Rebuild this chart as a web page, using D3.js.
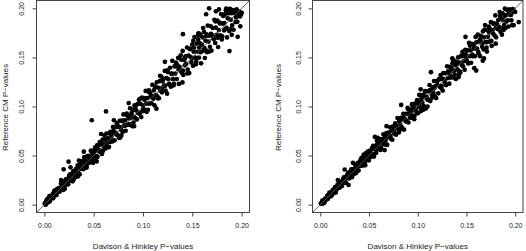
<!DOCTYPE html>
<html>
<head>
<meta charset="utf-8">
<script src="https://cdn.jsdelivr.net/npm/d3@7"></script>
<style>
  html, body { margin: 0; padding: 0; background: #fff; }
  svg { display: block; font-family: "Liberation Sans", Arial, Helvetica, sans-serif; }
</style>
</head>
<body>
<svg id="chart" width="526" height="251"></svg>
<script>
// ---------------- data ----------------
const tickValues = [0, 0.05, 0.10, 0.15, 0.20];
const tickLabels = ["0.00", "0.05", "0.10", "0.15", "0.20"];
const xTitle = "Davison & Hinkley P\u2212values";
const yTitle = "Reference CM P\u2212values";

// left panel: [Davison & Hinkley p, Reference CM p]
const leftPoints = [
[0.0004,0.0013],[0.0013,0.0000],[0.0019,0.0038],[0.0027,0.0026],[0.0031,0.0059],[0.0042,0.0033],[0.0048,0.0062],[0.0055,0.0034],
[0.0063,0.0090],[0.0069,0.0074],[0.0078,0.0072],[0.0084,0.0106],[0.0091,0.0074],[0.0102,0.0143],[0.0108,0.0107],[0.0117,0.0131],
[0.0123,0.0098],[0.0131,0.0162],[0.0142,0.0130],[0.0147,0.0169],[0.0156,0.0164],[0.0163,0.0143],[0.0171,0.0216],[0.0179,0.0180],
[0.0188,0.0207],[0.0194,0.0151],[0.0203,0.0232],[0.0211,0.0204],[0.0218,0.0259],[0.0226,0.0207],[0.0233,0.0247],[0.0241,0.0207],
[0.0249,0.0284],[0.0256,0.0248],[0.0264,0.0312],[0.0271,0.0250],[0.0279,0.0303],[0.0286,0.0238],[0.0293,0.0341],[0.0299,0.0304],
[0.0008,0.0005],[0.0023,0.0041],[0.0036,0.0023],[0.0051,0.0086],[0.0059,0.0059],[0.0074,0.0087],[0.0088,0.0064],[0.0096,0.0125],
[0.0113,0.0102],[0.0127,0.0148],[0.0137,0.0145],[0.0152,0.0132],[0.0168,0.0214],[0.0184,0.0185],[0.0198,0.0219],[0.0207,0.0163],
[0.0222,0.0252],[0.0237,0.0229],[0.0253,0.0299],[0.0268,0.0245],[0.0283,0.0298],[0.0296,0.0256],
[0.0245,0.0438],[0.0195,0.0360],[0.0265,0.0380],[0.0170,0.0250],
[0.0306,0.0326],[0.0314,0.0279],[0.0321,0.0366],[0.0329,0.0324],[0.0337,0.0400],[0.0343,0.0321],[0.0352,0.0384],[0.0358,0.0309],
[0.0366,0.0425],[0.0373,0.0383],[0.0381,0.0369],[0.0389,0.0433],[0.0396,0.0361],[0.0404,0.0484],[0.0411,0.0409],[0.0419,0.0446],
[0.0426,0.0376],[0.0433,0.0491],[0.0442,0.0422],[0.0448,0.0488],[0.0457,0.0473],[0.0463,0.0430],[0.0471,0.0549],[0.0478,0.0482],
[0.0486,0.0521],[0.0494,0.0426],[0.0501,0.0550],[0.0509,0.0499],[0.0516,0.0585],[0.0524,0.0495],[0.0531,0.0554],[0.0539,0.0489],
[0.0546,0.0603],[0.0553,0.0543],[0.0561,0.0638],[0.0569,0.0537],[0.0576,0.0614],[0.0584,0.0517],[0.0591,0.0664],[0.0598,0.0608],
[0.0606,0.0587],[0.0613,0.0666],[0.0621,0.0573],[0.0629,0.0725],[0.0636,0.0632],[0.0644,0.0676],[0.0651,0.0586],[0.0658,0.0728],
[0.0667,0.0639],[0.0673,0.0721],[0.0681,0.0699],[0.0689,0.0644],[0.0696,0.0792],
[0.0310,0.0315],[0.0325,0.0355],[0.0340,0.0287],[0.0355,0.0397],[0.0369,0.0363],[0.0384,0.0444],[0.0400,0.0375],[0.0415,0.0437],
[0.0430,0.0386],[0.0445,0.0498],[0.0460,0.0451],[0.0475,0.0549],[0.0490,0.0461],[0.0505,0.0541],[0.0520,0.0457],[0.0535,0.0605],
[0.0550,0.0560],[0.0565,0.0547],[0.0580,0.0632],[0.0595,0.0548],[0.0610,0.0707],[0.0625,0.0620],[0.0640,0.0673],[0.0655,0.0589],
[0.0670,0.0742],[0.0685,0.0656],[0.0700,0.0750],
[0.0480,0.0860],[0.0625,0.0950],[0.0400,0.0540],[0.0575,0.0720],[0.0530,0.0440],[0.0350,0.0450],
[0.0704,0.0735],[0.0712,0.0655],[0.0719,0.0790],[0.0727,0.0718],[0.0735,0.0830],[0.0741,0.0708],[0.0750,0.0798],[0.0757,0.0681],
[0.0764,0.0853],[0.0772,0.0787],[0.0779,0.0760],[0.0787,0.0853],[0.0795,0.0742],[0.0802,0.0919],[0.0809,0.0807],[0.0817,0.0858],
[0.0824,0.0753],[0.0832,0.0916],[0.0840,0.0812],[0.0846,0.0904],[0.0855,0.0879],[0.0862,0.0815],[0.0869,0.0982],[0.0877,0.0883],
[0.0885,0.0936],[0.0892,0.0799],[0.0899,0.0968],[0.0907,0.0895],[0.0914,0.1011],[0.0922,0.0882],[0.0930,0.0963],[0.0937,0.0868],
[0.0944,0.1024],[0.0952,0.0939],[0.0959,0.1068],[0.0967,0.0925],[0.0975,0.1028],[0.0982,0.0892],[0.0989,0.1090],[0.0997,0.1012],
[0.1004,0.0981],[0.1012,0.1085],[0.1019,0.0956],[0.1027,0.1159],[0.1034,0.1029],[0.1042,0.1086],[0.1050,0.0967],[0.1057,0.1151],
[0.1064,0.1030],[0.1072,0.1136],[0.1079,0.1104],[0.1087,0.1032],[0.1095,0.1220],[0.1102,0.1107],[0.1109,0.1164],[0.1117,0.1011],
[0.1124,0.1200],[0.1132,0.1117],[0.1140,0.1247],[0.1147,0.1100],[0.1155,0.1191],[0.1162,0.1084],[0.1170,0.1258],[0.1177,0.1161],
[0.1185,0.1305],[0.1192,0.1144],[0.1199,0.1256],
[0.0725,0.0732],[0.0745,0.0792],[0.0768,0.0683],[0.0790,0.0856],[0.0813,0.0802],[0.0835,0.0928],[0.0858,0.0820],[0.0880,0.0913],
[0.0903,0.0837],[0.0925,0.1004],[0.0948,0.0935],[0.0970,0.1079],[0.0993,0.0951],[0.1015,0.1069],[0.1038,0.0946],[0.1060,0.1164],
[0.1083,0.1098],[0.1105,0.1080],[0.1128,0.1204],[0.1150,0.1083],[0.1173,0.1313],[0.1195,0.1189],
[0.1136,0.0978],[0.0855,0.1035],[0.0705,0.0860],[0.0910,0.0800],[0.0780,0.0705],
[0.1206,0.1281],[0.1214,0.1212],[0.1221,0.1362],[0.1229,0.1161],[0.1237,0.1290],[0.1244,0.1131],[0.1252,0.1350],[0.1259,0.1279],
[0.1266,0.1230],[0.1274,0.1395],[0.1282,0.1201],[0.1289,0.1332],[0.1297,0.1465],[0.1304,0.1278],[0.1311,0.1216],[0.1319,0.1408],
[0.1327,0.1335],[0.1334,0.1447],[0.1342,0.1280],[0.1349,0.1416],[0.1357,0.1495],[0.1364,0.1230],[0.1371,0.1403],[0.1379,0.1363],
[0.1387,0.1478],[0.1394,0.1343],[0.1402,0.1566],[0.1409,0.1321],[0.1417,0.1473],[0.1424,0.1420],[0.1431,0.1512],[0.1439,0.1435],
[0.1447,0.1601],[0.1454,0.1376],[0.1462,0.1519],[0.1469,0.1341],[0.1477,0.1584],[0.1484,0.1504],[0.1491,0.1449],[0.1499,0.1631],
[0.1507,0.1414],[0.1514,0.1559],[0.1522,0.1707],[0.1529,0.1498],[0.1537,0.1430],[0.1544,0.1641],[0.1551,0.1558],[0.1559,0.1682],
[0.1567,0.1497],[0.1574,0.1646],[0.1582,0.1732],[0.1589,0.1440],[0.1597,0.1630],
[0.1225,0.1212],[0.1248,0.1369],[0.1270,0.1223],[0.1293,0.1336],[0.1315,0.1232],[0.1338,0.1439],[0.1360,0.1380],[0.1383,0.1521],
[0.1405,0.1365],[0.1428,0.1496],[0.1450,0.1337],[0.1473,0.1591],[0.1495,0.1490],[0.1518,0.1601],[0.1540,0.1459],[0.1563,0.1724],
[0.1585,0.1553],
[0.1405,0.1737],[0.1222,0.1455],[0.1400,0.1245],[0.1565,0.1745],[0.1640,0.1570],
[0.1604,0.1705],[0.1612,0.1570],[0.1619,0.1759],[0.1627,0.1494],[0.1634,0.1670],[0.1642,0.1718],[0.1649,0.1554],[0.1657,0.1825],
[0.1664,0.1661],[0.1672,0.1721],[0.1679,0.1609],[0.1687,0.1817],[0.1694,0.1570],[0.1702,0.1726],[0.1709,0.1800],[0.1717,0.1686],
[0.1724,0.1883],[0.1732,0.1647],[0.1739,0.1804],[0.1747,0.1730],[0.1754,0.1874],[0.1762,0.1606],[0.1769,0.1779],[0.1777,0.1856],
[0.1784,0.1725],[0.1792,0.1942],[0.1799,0.1683],[0.1807,0.1845],[0.1814,0.1923],[0.1822,0.1775],[0.1829,0.1938],[0.1837,0.1791],
[0.1844,0.1998],[0.1852,0.1704],[0.1859,0.1898],[0.1867,0.1949],[0.1874,0.1769],[0.1882,0.1996],[0.1889,0.1885],[0.1897,0.1950],
[0.1904,0.1826],[0.1912,0.1982],[0.1919,0.1782],[0.1927,0.1952],[0.1934,0.1975],[0.1942,0.1908],[0.1949,0.1990],[0.1957,0.1863],
[0.1964,0.1946],[0.1972,0.1952],[0.1979,0.1965],[0.1987,0.1817],[0.1994,0.1938],[0.2002,0.1955],
[0.1623,0.1594],[0.1645,0.1734],[0.1668,0.1559],[0.1690,0.1740],[0.1713,0.1696],[0.1735,0.1867],[0.1758,0.1700],[0.1780,0.1846],
[0.1803,0.1715],[0.1825,0.1849],[0.1848,0.1801],[0.1870,0.1979],[0.1893,0.1788],[0.1915,0.1954],[0.1938,0.1860],[0.1960,0.1940],
[0.1983,0.1918],
[0.1670,0.2000],[0.1770,0.1990],[0.1740,0.1970],[0.1640,0.1940],[0.1840,0.1980],[0.1910,0.1960],[0.1960,0.1970],[0.1877,0.1565],
[0.1900,0.1730],[0.1960,0.1710],[0.1570,0.1600],[0.1560,0.1740],[0.1610,0.1800],[0.1510,0.1670]
];

// right panel: [Davison & Hinkley p, Reference CM p]
const rightPoints = [
[0.0006,0.0014],[0.0012,0.0009],[0.0021,0.0040],[0.0028,0.0014],[0.0035,0.0040],[0.0041,0.0019],[0.0049,0.0062],[0.0056,0.0056],
[0.0062,0.0052],[0.0071,0.0089],[0.0077,0.0058],[0.0085,0.0089],[0.0093,0.0122],[0.0099,0.0090],[0.0106,0.0083],[0.0114,0.0128],
[0.0121,0.0119],[0.0128,0.0148],[0.0136,0.0118],[0.0144,0.0155],[0.0151,0.0178],[0.0158,0.0123],[0.0166,0.0169],[0.0173,0.0165],
[0.0181,0.0199],[0.0189,0.0171],[0.0196,0.0232],[0.0204,0.0176],[0.0212,0.0221],[0.0219,0.0213],[0.0227,0.0244],[0.0234,0.0227],
[0.0242,0.0279],[0.0250,0.0223],[0.0257,0.0268],[0.0265,0.0223],[0.0272,0.0298],[0.0280,0.0280],[0.0288,0.0269],[0.0295,0.0329],
[0.0016,0.0010],[0.0031,0.0042],[0.0045,0.0032],[0.0067,0.0071],[0.0081,0.0098],[0.0102,0.0095],[0.0118,0.0096],[0.0132,0.0145],
[0.0148,0.0151],[0.0162,0.0145],[0.0177,0.0203],[0.0192,0.0186],[0.0208,0.0221],[0.0223,0.0190],[0.0238,0.0262],[0.0253,0.0235],
[0.0268,0.0279],[0.0284,0.0322],[0.0299,0.0268],
[0.0290,0.0200],[0.0250,0.0358],[0.0180,0.0250],
[0.0303,0.0331],[0.0311,0.0295],[0.0318,0.0359],[0.0326,0.0281],[0.0334,0.0343],[0.0341,0.0362],[0.0349,0.0314],[0.0356,0.0409],
[0.0363,0.0359],[0.0371,0.0384],[0.0378,0.0351],[0.0386,0.0427],[0.0393,0.0347],[0.0401,0.0406],[0.0408,0.0436],[0.0416,0.0402],
[0.0423,0.0477],[0.0431,0.0397],[0.0438,0.0458],[0.0446,0.0436],[0.0453,0.0493],[0.0461,0.0401],[0.0468,0.0468],[0.0476,0.0502],
[0.0483,0.0457],[0.0491,0.0544],[0.0498,0.0450],[0.0506,0.0517],[0.0513,0.0550],[0.0521,0.0499],[0.0528,0.0567],[0.0536,0.0514],
[0.0543,0.0599],[0.0551,0.0490],[0.0558,0.0570],[0.0566,0.0595],[0.0573,0.0527],[0.0581,0.0650],[0.0588,0.0582],[0.0596,0.0614],
[0.0603,0.0568],[0.0611,0.0664],[0.0618,0.0558],[0.0626,0.0632],[0.0633,0.0669],[0.0641,0.0623],[0.0648,0.0716],[0.0656,0.0613],
[0.0663,0.0688],[0.0671,0.0658],[0.0678,0.0729],[0.0686,0.0609],[0.0693,0.0693],
[0.0307,0.0299],[0.0322,0.0343],[0.0337,0.0307],[0.0352,0.0365],[0.0367,0.0323],[0.0382,0.0409],[0.0397,0.0392],[0.0412,0.0455],
[0.0427,0.0403],[0.0442,0.0452],[0.0457,0.0417],[0.0472,0.0528],[0.0487,0.0471],[0.0502,0.0523],[0.0517,0.0485],[0.0532,0.0576],
[0.0547,0.0497],[0.0562,0.0568],[0.0577,0.0606],[0.0592,0.0568],[0.0607,0.0667],[0.0622,0.0580],[0.0637,0.0655],[0.0652,0.0640],
[0.0667,0.0705],[0.0682,0.0612],[0.0697,0.0710],
[0.0335,0.0426],[0.0560,0.0690],[0.0590,0.0680],[0.0660,0.0556],[0.0680,0.0800],[0.0445,0.0510],
[0.0701,0.0734],[0.0709,0.0696],[0.0716,0.0788],[0.0724,0.0672],[0.0732,0.0752],[0.0739,0.0661],[0.0747,0.0793],[0.0754,0.0754],
[0.0761,0.0726],[0.0769,0.0828],[0.0776,0.0713],[0.0784,0.0798],[0.0792,0.0883],[0.0799,0.0771],[0.0806,0.0736],[0.0814,0.0856],
[0.0821,0.0814],[0.0829,0.0885],[0.0837,0.0787],[0.0844,0.0873],[0.0852,0.0924],[0.0859,0.0765],[0.0866,0.0873],[0.0874,0.0852],
[0.0882,0.0926],[0.0889,0.0845],[0.0896,0.0985],[0.0904,0.0837],[0.0911,0.0933],[0.0919,0.0904],[0.0927,0.0964],[0.0934,0.0919],
[0.0941,0.1024],[0.0949,0.0889],[0.0956,0.0979],[0.0964,0.0871],[0.0972,0.1027],[0.0979,0.0979],[0.0986,0.0947],[0.0994,0.1064],
[0.1001,0.0931],[0.1009,0.1025],[0.1016,0.1118],[0.1024,0.0992],[0.1031,0.0952],[0.1039,0.1087],[0.1047,0.1039],[0.1054,0.1118],
[0.1061,0.1005],[0.1069,0.1102],[0.1076,0.1156],[0.1084,0.0980],[0.1092,0.1100],[0.1099,0.1074],[0.1106,0.1155],[0.1114,0.1065],
[0.1121,0.1219],[0.1129,0.1055],[0.1137,0.1162],[0.1144,0.1128],[0.1152,0.1194],[0.1159,0.1142],[0.1167,0.1260],[0.1174,0.1105],
[0.1182,0.1208],[0.1189,0.1086],[0.1197,0.1257],
[0.0720,0.0700],[0.0742,0.0796],[0.0765,0.0724],[0.0787,0.0794],[0.0810,0.0852],[0.0832,0.0768],[0.0855,0.0884],[0.0877,0.0862],
[0.0900,0.0974],[0.0922,0.0884],[0.0945,0.0960],[0.0967,0.0905],[0.0990,0.1045],[0.1012,0.1004],[0.1035,0.1059],[0.1057,0.0968],
[0.1080,0.1153],[0.1102,0.1069],[0.1125,0.1166],[0.1147,0.1089],[0.1170,0.1187],[0.1192,0.1260],
[0.0830,0.1016],[0.1030,0.1175],[0.1135,0.1350],[0.1100,0.1000],[0.0947,0.1000],
[0.1203,0.1220],[0.1211,0.1134],[0.1218,0.1278],[0.1226,0.1200],[0.1234,0.1320],[0.1241,0.1189],[0.1249,0.1284],[0.1256,0.1162],
[0.1263,0.1341],[0.1271,0.1271],[0.1279,0.1245],[0.1286,0.1338],[0.1294,0.1222],[0.1301,0.1409],[0.1308,0.1290],[0.1316,0.1343],
[0.1324,0.1233],[0.1331,0.1403],[0.1339,0.1295],[0.1346,0.1391],[0.1354,0.1363],[0.1361,0.1297],[0.1368,0.1470],[0.1376,0.1367],
[0.1384,0.1421],[0.1391,0.1280],[0.1399,0.1455],[0.1406,0.1378],[0.1414,0.1500],[0.1421,0.1364],[0.1428,0.1447],[0.1436,0.1350],
[0.1444,0.1511],[0.1451,0.1422],[0.1459,0.1556],[0.1466,0.1408],[0.1474,0.1513],[0.1481,0.1374],[0.1488,0.1578],[0.1496,0.1496],
[0.1504,0.1464],[0.1511,0.1571],[0.1519,0.1439],[0.1526,0.1648],[0.1534,0.1513],[0.1541,0.1572],[0.1548,0.1446],[0.1556,0.1638],
[0.1564,0.1512],[0.1571,0.1623],[0.1579,0.1589],[0.1586,0.1513],[0.1594,0.1709],
[0.1222,0.1274],[0.1245,0.1210],[0.1267,0.1276],[0.1290,0.1218],[0.1312,0.1357],[0.1335,0.1317],[0.1357,0.1441],[0.1380,0.1324],
[0.1402,0.1431],[0.1425,0.1329],[0.1447,0.1515],[0.1470,0.1460],[0.1492,0.1532],[0.1515,0.1445],[0.1537,0.1618],[0.1560,0.1529],
[0.1582,0.1603],
[0.1355,0.1490],[0.1490,0.1710],[0.1420,0.1300],[0.1580,0.1390],
[0.1601,0.1654],[0.1609,0.1588],[0.1616,0.1732],[0.1624,0.1540],[0.1631,0.1663],[0.1639,0.1513],[0.1646,0.1720],[0.1654,0.1654],
[0.1661,0.1608],[0.1669,0.1765],[0.1676,0.1581],[0.1684,0.1705],[0.1691,0.1830],[0.1699,0.1656],[0.1706,0.1599],[0.1714,0.1778],
[0.1721,0.1710],[0.1729,0.1815],[0.1736,0.1661],[0.1744,0.1787],[0.1751,0.1859],[0.1759,0.1618],[0.1766,0.1777],[0.1774,0.1742],
[0.1781,0.1846],[0.1789,0.1723],[0.1796,0.1928],[0.1804,0.1705],[0.1811,0.1844],[0.1819,0.1797],[0.1826,0.1881],[0.1834,0.1812],
[0.1841,0.1963],[0.1849,0.1761],[0.1856,0.1890],[0.1864,0.1732],[0.1871,0.1950],[0.1879,0.1879],[0.1886,0.1830],[0.1894,0.1997],
[0.1901,0.1800],[0.1909,0.1932],[0.1916,0.1985],[0.1924,0.1879],[0.1931,0.1815],[0.1939,0.1990],[0.1946,0.1934],[0.1954,0.1978],
[0.1961,0.1878],[0.1969,0.1960],[0.1976,0.1993],[0.1984,0.1829],[0.1991,0.1968],[0.1999,0.1963],
[0.1620,0.1557],[0.1642,0.1684],[0.1665,0.1644],[0.1687,0.1783],[0.1710,0.1656],[0.1732,0.1754],[0.1755,0.1668],[0.1777,0.1843],
[0.1800,0.1800],[0.1822,0.1789],[0.1845,0.1923],[0.1867,0.1800],[0.1890,0.1924],[0.1912,0.1866],[0.1935,0.1947],[0.1957,0.1933],
[0.1980,0.1986],
[0.1600,0.1366],[0.1667,0.1467],[0.1680,0.1490],[0.1710,0.1560],[0.1800,0.1640],[0.1880,0.1780],[0.1970,0.1830],[0.2036,0.1860]
];

// ---------------- layout ----------------
const domain = [-0.008, 0.208];
const panels = [
  { points: leftPoints,  left: 36.5,  right: 249.5, top: 0.5, bottom: 212.5, yLabelX: 24.2, yTitleX: 8 },
  { points: rightPoints, left: 312.5, right: 523.0, top: 0.5, bottom: 212.5, yLabelX: 300.6, yTitleX: 281 }
];

const svg = d3.select("#chart");
svg.append("rect").attr("width", 526).attr("height", 251).attr("fill", "#fff");

panels.forEach((p, i) => {
  const x = d3.scaleLinear().domain(domain).range([p.left, p.right]);
  const y = d3.scaleLinear().domain(domain).range([p.bottom, p.top]);
  const g = svg.append("g");

  const clipId = "clip" + i;
  g.append("clipPath").attr("id", clipId)
    .append("rect")
    .attr("x", p.left).attr("y", p.top)
    .attr("width", p.right - p.left).attr("height", p.bottom - p.top);

  // points
  g.append("g")
    .selectAll("circle")
    .data(p.points)
    .join("circle")
    .attr("cx", d => x(d[0]))
    .attr("cy", d => y(d[1]))
    .attr("r", 2.35)
    .attr("fill", "#000");

  // y = x reference line
  g.append("line")
    .attr("clip-path", `url(#${clipId})`)
    .attr("x1", x(domain[0])).attr("y1", y(domain[0]))
    .attr("x2", x(domain[1])).attr("y2", y(domain[1]))
    .attr("stroke", "#555").attr("stroke-width", 0.9);

  // box
  g.append("rect")
    .attr("x", p.left).attr("y", p.top)
    .attr("width", p.right - p.left).attr("height", p.bottom - p.top)
    .attr("fill", "none").attr("stroke", "#444").attr("stroke-width", 1);

  // x axis
  const xAxis = d3.axisBottom(x)
    .tickValues(tickValues)
    .tickFormat((d, k) => tickLabels[k])
    .tickSize(4)
    .tickPadding(7);
  const gx = g.append("g").attr("transform", `translate(0,${p.bottom})`).call(xAxis);
  gx.select(".domain").remove();
  gx.selectAll(".tick line").attr("stroke", "#444");
  gx.selectAll(".tick text")
    .attr("font-size", 7).attr("fill", "#222")
    .attr("font-family", "Liberation Sans, Arial, sans-serif");

  // y axis
  const yAxis = d3.axisLeft(y)
    .tickValues(tickValues)
    .tickFormat((d, k) => tickLabels[k])
    .tickSize(4);
  const gy = g.append("g").attr("transform", `translate(${p.left},0)`).call(yAxis);
  gy.select(".domain").remove();
  gy.selectAll(".tick line").attr("stroke", "#444");
  gy.selectAll(".tick text")
    .attr("x", null).attr("dy", null)
    .attr("text-anchor", "middle")
    .attr("transform", `translate(${p.yLabelX - p.left},0) rotate(-90)`)
    .attr("font-size", 7).attr("fill", "#222")
    .attr("font-family", "Liberation Sans, Arial, sans-serif");

  // titles
  g.append("text")
    .attr("x", (p.left + p.right) / 2).attr("y", 249)
    .attr("text-anchor", "middle")
    .attr("font-size", 8).attr("fill", "#222")
    .text(xTitle);
  g.append("text")
    .attr("transform", `translate(${p.yTitleX},${(p.top + p.bottom) / 2 + 1}) rotate(-90)`)
    .attr("text-anchor", "middle")
    .attr("font-size", 8).attr("fill", "#222")
    .text(yTitle);
});
</script>
</body>
</html>
